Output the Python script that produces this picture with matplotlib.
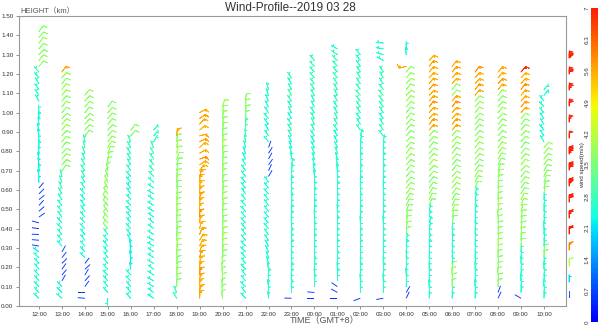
import numpy as np
import matplotlib
matplotlib.use("Agg")
import matplotlib.pyplot as plt
from matplotlib.colors import LinearSegmentedColormap, Normalize
from matplotlib.colorbar import ColorbarBase

nan = np.nan

TIME_LABELS = ["12:00", "13:00", "14:00", "15:00", "16:00", "17:00", "18:00", "19:00",
               "20:00", "21:00", "22:00", "23:00", "00:00", "01:00", "02:00", "03:00",
               "04:00", "05:00", "06:00", "07:00", "08:00", "09:00", "10:00"]

HEIGHTS = [0.04, 0.07, 0.10, 0.13, 0.16, 0.19, 0.22, 0.25, 0.28, 0.31, 0.34, 0.37,
           0.40, 0.43, 0.46, 0.49, 0.52, 0.55, 0.58, 0.61, 0.64, 0.67, 0.70, 0.73,
           0.76, 0.79, 0.82, 0.85, 0.88, 0.91, 0.94, 0.97, 1.00, 1.03, 1.06, 1.09,
           1.12, 1.15, 1.18, 1.21, 1.24, 1.27, 1.30, 1.33, 1.36, 1.39, 1.42]

# wind speed (m/s) per range gate, lowest gate first, one list per hour
SPEED = [
    # 12:00
    [2.5,2.6,2.4,2.7,2.5,2.6,2.4,2.5,2.3, 0.5,0.6,0.5,0.4,0.5, 0.6,0.5,0.6,0.7,0.6,0.5,
     2.3,2.4,2.3,2.2,2.4,2.3,2.5,2.4,2.3,2.4,2.5,2.3,2.4, nan, 2.5,2.6,2.5,2.7,2.6,2.8,
     3.7,3.8,3.6,3.7,3.8,3.7,3.6],
    # 13:00
    [2.5,2.4,2.6, 0.6,0.5,0.6,0.5,0.6,0.7,
     2.4,2.5,2.6,2.5,2.4,2.6,2.7,2.5,2.6,2.8,2.7,2.9,2.8,
     3.6,3.7,3.8,3.7,3.6,3.8,3.7,3.9,3.8,3.7,3.6,3.8,3.7,3.8,3.9,3.7,3.8, 5.6],
    # 14:00
    [0.5,0.6, 0.6,0.5,0.7,0.6,0.5,
     2.4,2.5,2.6,2.5,2.4,2.6,2.7,2.5,2.6,2.4,2.5,2.6,2.7,2.5,2.6,2.8,2.7,2.6,2.8,2.9,2.8,
     3.6,3.7,3.8,3.7,3.6,3.8,3.7,3.8],
    # 15:00
    [2.4,2.5,2.6,2.5,2.4,2.6,2.7,2.5,2.6,2.4,2.5,2.7,
     3.6,3.7,3.8,3.7,3.6,3.8,3.7,3.9,3.8,3.7,3.6,3.8,3.7,3.8,3.9,3.7,3.8,3.6,3.7,3.8,
     3.7,3.6],
    # 16:00
    [2.4,2.5,2.6,2.5,2.4,2.3,2.2,2.3,2.2,2.3,2.4,2.5,2.6,2.5,2.4,2.6,2.7,2.5,2.6,2.4,
     2.5,2.6,2.7,2.5,2.6,2.8,2.7,2.8, 3.6,3.7],
    # 17:00
    [2.4,2.5,2.6,2.5,2.4,2.6,2.7,2.5,2.6,2.4,2.5,2.6,2.7,2.5,2.6,2.4,2.5,2.6,2.7,2.5,
     2.6,2.8,2.7,2.6,2.8,2.9,2.8,2.7,2.6,2.8],
    # 18:00
    [2.6,2.7, 3.6,3.7,3.8,3.7,3.6,3.8,3.7,3.9,3.8,3.7,3.6,3.8,3.7,3.8,3.9,3.7,3.8,3.6,
     3.7,3.8,3.7,3.6,3.8,3.9,3.8,3.7, 5.6],
    # 19:00
    [5.6,5.7,5.5,5.6,5.8,5.6,5.5,5.7,5.6,5.5,5.6,5.7,5.5,5.6,5.8,5.6,5.5,5.7,5.6,5.5,
     5.6,5.7,5.5,5.6,5.8,5.6,5.5,5.7,5.6,5.5,5.6,5.7,5.5],
    # 20:00
    [3.7,3.8,3.6,3.7,3.8,3.9,3.7,3.6,3.8,3.7,3.9,3.8,3.7,3.6,3.8,3.7,3.8,3.9,3.7,3.8,
     3.6,3.7,3.8,3.7,3.6,3.8,3.9,3.8,3.7,3.6,3.8,3.7,3.8,3.9],
    # 21:00
    [2.5,2.6,2.4,2.5,2.7,2.6,2.5,2.4,2.6,2.5,2.7,2.6,2.5,2.4,2.6,2.5,2.7,2.6,2.5,2.4,
     2.6,2.5,2.7,2.6,2.5,2.4,2.6,2.7,2.8,2.9,2.8, 3.6,3.7,3.8,3.7],
    # 22:00
    [2.5,2.6,2.4,2.5,2.7,2.6,2.5, 2.4,2.6,2.5,2.7,2.6,2.5,2.4,2.6,2.5,2.7,2.6,2.5,2.4,
     2.6, 0.6,0.5,0.7,0.6,0.5,0.6, 2.5,2.6,2.4,2.5,2.7,2.6,2.5,2.4,2.6,2.7],
    # 23:00
    [0.5, 2.5,2.6,2.4,2.5,2.7,2.6,2.5,2.4,2.6,2.5,2.7,2.6,2.5,2.4,2.6,2.5,2.7,2.6,2.5,
     2.4,2.6,2.5,2.7,2.6, 2.5,2.4,2.6,2.7,2.8,2.6,2.5,2.7,2.6,2.8,2.9,2.7,2.6,2.8],
    # 00:00
    [0.5,0.6, 2.5,2.6,2.4,2.5,2.7,2.6,2.5,2.4,2.6,2.5, 2.7,2.6,2.5,2.4,2.6,2.5,2.7,2.6,
     2.5, 2.4,2.6,2.5,2.7,2.6,2.5,2.4,2.6,2.7,2.8, 2.6,2.5,2.7,2.6,2.8,2.9,2.7,2.6,2.8,
     2.7,2.6],
    # 01:00
    [0.5,0.6,0.5, 2.5,2.6,2.4,2.5,2.7,2.6,2.5,2.4,2.6,2.5, 2.7,2.6,2.5,2.4,2.6,2.5,2.7,
     2.6,2.5,2.4, 2.6,2.5,2.7,2.6,2.5,2.4,2.6,2.7,2.8,2.6, 2.5,2.7,2.6,2.8,2.9,2.7,2.6,
     2.8,2.7,2.6,2.5],
    # 02:00
    [0.5, 2.5,2.6,2.4,2.5,2.7,2.6,2.5,2.4,2.6, 2.5,2.7,2.6,2.5,2.4,2.6,2.5,2.7,2.6,2.5,
     2.4,2.6,2.5,2.7,2.6,2.5,2.4,2.6,2.7, 2.8,2.6,2.5,2.7,2.6,2.8,2.9,2.7,2.6,2.8,2.7,
     2.6,2.5,2.6],
    # 03:00
    [0.5, 2.5,2.6,2.4,2.5,2.7,2.6,2.5,2.4,2.6, 2.5,2.7,2.6,2.5,2.4,2.6,2.5,2.7,2.6,2.5,
     2.4,2.6,2.5,2.7,2.6,2.5,2.4,2.6, 2.7,2.8,2.6,2.5,2.7,2.6,2.8,2.9,2.7,2.6,2.8,2.7,
     nan, 2.5,2.6,2.4,2.5],
    # 04:00
    [0.5,0.6, 2.5,2.6,2.4,2.5,2.7,2.6,2.5,2.4,2.6, 3.6,3.7,3.8,3.7,3.6,3.8,3.7,3.9,3.8,
     3.7,3.6,3.8,3.7,3.8,3.9,3.7,3.8,3.6,3.7,3.8, 3.7,3.6,3.8,3.9,3.8,3.7,3.8,3.9,3.7,
     5.6, nan, 2.4,2.3],
    # 05:00
    [2.5,2.6,2.4,2.5,2.7,2.6,2.5,2.4,2.6, 2.5,2.7,2.6,2.5,2.4,2.6,2.5,
     3.6,3.7,3.8,3.7,3.6,3.8,3.7,3.9,3.8,3.7,3.6,3.8,3.7,
     5.6,5.7,5.5,5.6,5.8,5.6,5.5,5.7,5.6,5.5,5.6,5.7,5.5],
    # 06:00
    [2.5,2.6, 3.7,3.6,3.8,3.7, 2.6,2.5,2.4,2.6,2.5,2.7,2.6,
     3.6,3.7,3.8,3.7,3.6,3.8,3.7,3.9,3.8,3.7,3.6,3.8,3.7,3.8,3.9,3.7,
     5.6,5.7,5.5,5.6,5.8,5.6, 3.8,3.7, 5.5,5.6,5.7,5.6],
    # 07:00
    [2.5,2.6,2.4,2.5,2.7,2.6,2.5,2.4,2.6,2.5, 2.7,2.6,2.5,2.4,2.6,2.5,2.7,2.6,2.5,
     3.6,3.7,3.8,3.7,3.6,3.8,3.7,3.9,3.8,3.7,3.6,3.8,3.7,3.8,3.9,3.7,
     5.6,5.7,5.5,5.6,5.8],
    # 08:00
    [0.6,0.5, 3.7,3.6,3.8,3.7,3.6,3.8,3.7,3.9,3.8, 3.7,3.6,3.8,3.7,3.8,3.9,3.7,3.8,3.6,
     3.7,3.8,3.7,3.6,3.8,3.9,3.8,3.7,3.6,3.8, 3.7,3.8,3.9,3.7,3.6,3.8,
     5.6,5.7,5.5,5.6],
    # 09:00
    [0.5, 2.5,2.6,2.4,2.5,2.7,2.6,2.5,2.6, 3.7,3.6,3.8,3.7,3.6,3.8,3.7,3.9,3.8,3.7,3.6,
     3.8,3.7,3.8,3.9,3.7,3.8,3.6,3.7,3.8,3.7,3.6,3.8, 5.6,5.7,5.5,5.6,5.8,5.6,5.5, 6.8],
    # 10:00
    [2.5,2.6,2.4,2.5,2.7,2.6,2.5, 3.6,3.7, 2.6,2.5,2.4,2.6,2.5,2.7,2.6,2.5,2.4,
     3.7,3.6,3.8,3.7,3.6,3.8,3.7,3.9,3.8, 2.6,2.5,2.4,2.6,2.5,2.7,2.6,2.5,2.4,2.6],
]

# wind direction (degrees, where the wind blows from), same layout as SPEED
DIRECTION = [
    # 12:00
    [312,318,315,320,316,322,318,312,305, 280,275,272,278,285, 55,48,42,50,45,40,
     355,350,358,352,348,355,0,356,350,345,352,358,355, nan, 330,325,322,328,320,318,
     42,38,45,40,36,42,38],
    # 13:00
    [310,315,318, 30,40,35,45,38,30,
     318,322,320,315,318,325,320,322,328,330,335,340,345,
     38,42,40,45,38,40,42,38,40,44,40,38,42,40,36,40,42, 35],
    # 14:00
    [275,270, 35,42,30,48,38,
     315,320,318,322,320,315,318,320,325,322,320,318,325,330,328,325,330,335,340,345,350,
     38,42,40,45,38,40,42,38],
    # 15:00
    [185,318,322,320,315,318,320,325,322,320,318,325,
     320,318,322,325,320,318,325,330,335,340,350,0,10,20,30,38,40,42,38,40,42,38],
    # 16:00
    [318,322,320,315,318,352,356,350,354,348,330,320,318,322,320,315,318,320,325,322,
     320,318,325,330,328,325,330,335, 40,38],
    # 17:00
    [302,305,300,298,304,306,300,303,305,300,298,302,306,310,305,300,302,306,300,305,
     310,315,318,322,325,330,335,30,40,38],
    # 18:00
    [330,335, 2,5,3,6,4,2,5,7,3,4,6,2,5,3,4,6,8,5,3,6,10,15,20,12,8,5, 5],
    # 19:00
    [3,5,2,6,4,3,8,12,18,25,30,20,12,5,2,358,3,6,2,5,
     4,15,35,55,70,60,45,65,75,50,40,55,60],
    # 20:00
    [350,355,352,358,354,350,356,3,5,2,4,6,3,5,2,4,6,3,5,8,
     4,2,5,3,6,4,2,5,3,6,8,5,10,15],
    # 21:00
    [318,322,315,320,325,318,322,320,315,318,320,325,322,318,320,315,318,322,325,320,
     318,322,325,330,335,340,345,350,355,0,5, 2,5,3,6],
    # 22:00
    [355,0,352,358,5,350,345, 340,335,330,325,322,320,318,320,322,325,320,318,322,
     325, 30,25,35,28,32,20, 320,325,330,322,318,325,330,335,340,345],
    # 23:00
    [272, 2,5,358,3,6,0,4,2,5,3,6,2,358,4,5,2,6,3,0,
     5,2,8,12,355, 345,340,335,330,328,325,330,335,328,325,330,332,328,325],
    # 00:00
    [270,275, 2,5,358,3,6,0,4,2,5,3, 6,2,358,4,5,2,6,3,
     0, 355,350,345,340,335,330,328,325,330,335, 328,325,330,332,328,325,322,320,318,
     315,320],
    # 01:00
    [270,300,305, 2,5,358,3,6,0,4,2,5,3, 6,2,358,4,5,2,6,
     3,0,355, 350,345,340,335,330,328,325,330,335,328, 325,330,332,328,325,322,320,
     318,315,305,300],
    # 02:00
    [250, 2,5,358,3,6,0,4,2,5, 3,6,2,358,4,5,2,6,3,0,
     5,2,8,3,6,2,5,10,15, 325,330,322,328,325,320,318,322,325,330,328,
     325,322,320,318],
    # 03:00
    [260, 2,5,358,3,6,0,4,2,5, 3,6,2,358,4,5,2,6,3,0,
     5,2,8,3,6,2,5,10, 320,325,330,322,328,325,320,318,322,325,330,328,
     nan, 300,285,280,275],
    # 04:00
    [25,30, 2,5,358,3,6,0,4,8,12, 5,8,10,15,20,25,30,35,38,
     42,40,38,42,40,36,40,44,40,38,42, 40,38,42,40,44,38,40,42,38,
     255, nan, 355,0],
    # 05:00
    [2,5,358,3,6,0,4,2,5, 8,10,6,12,15,10,12,
     20,25,30,35,38,40,42,38,40,42,38,40,42,
     40,38,42,40,36,40,44,40,38,42,40,38,42],
    # 06:00
    [2,5, 0,3,358,2, 5,2,6,3,8,5,4,
     10,15,20,25,30,35,38,40,42,38,40,42,38,40,42,38,
     40,38,42,40,36,40, 42,38, 40,42,38,40],
    # 07:00
    [2,5,358,3,6,0,4,2,5,3, 6,2,8,4,5,10,6,12,15,
     20,25,30,35,38,40,42,38,40,42,38,40,42,38,40,42,
     40,38,42,40,36],
    # 08:00
    [25,20, 2,5,358,3,6,0,4,2,5, 3,6,2,358,4,5,2,6,3,
     8,12,18,25,30,35,38,40,42,38, 40,42,38,40,42,38,
     40,42,38,40],
    # 09:00
    [300, 2,5,358,3,6,0,4,2, 5,3,6,8,10,12,15,20,25,30,35,
     38,40,42,38,40,42,38,40,42,38,40,42, 40,38,42,40,36,40,44, 40],
    # 10:00
    [2,5,358,3,6,0,4, 2,5, 3,6,2,358,4,5,2,6,3,
     8,12,18,25,30,35,38,40,42, 330,325,322,328,325,320,318,322,40,42,38],
]

# speeds shown in the barb key at the right edge
KEY_SPEEDS = [1, 2, 4, 6, 8, 10, 12, 14, 16, 18, 20, 22, 24, 26, 28, 30]
CBAR_TICKS = [0, 0.7, 1.4, 2.1, 2.8, 3.5, 4.2, 4.9, 5.6, 6.3, 7]

FONT = ["Liberation Sans", "Noto Sans CJK SC", "DejaVu Sans"]
plt.rcParams["font.family"] = FONT

# rainbow scale from pure blue to pure red (middle part of jet)
cmap = LinearSegmentedColormap.from_list(
    "wind", plt.get_cmap("jet")(np.linspace(0.12, 0.88, 256)))
norm = Normalize(0, 7)

W, H = 600, 327
DPI = 100
fig = plt.figure(figsize=(W / DPI, H / DPI), dpi=DPI)
ax = fig.add_axes([19 / W, 1 - 306 / H, (566 - 19) / W, (306 - 16) / H])

# barbs scale their outline by length/2 points, so the staff is length**2/2 points long
BARB_LEN = 3.2
SHAFT_IN = BARB_LEN ** 2 / 2 / 72.0
INC = dict(half=2, full=4, flag=20)
SIZES = dict(spacing=0.2, height=0.55, width=0.3, emptybarb=0.0)
LW = 0.6

xs, ys, us, vs, ss = [], [], [], [], []
for i, (spd, drc) in enumerate(zip(SPEED, DIRECTION)):
    for h, s, d in zip(HEIGHTS, spd, drc):
        if np.isnan(s):
            continue
        r = np.deg2rad(d)
        xs.append(i); ys.append(h)
        us.append(-s * np.sin(r)); vs.append(-s * np.cos(r)); ss.append(s)
xs, ys, us, vs, ss = map(np.array, (xs, ys, us, vs, ss))

strong = ss >= 1.0
ax.barbs(xs[strong], ys[strong], us[strong], vs[strong], ss[strong],
         cmap=cmap, norm=norm, length=BARB_LEN, linewidth=LW,
         barb_increments=INC, sizes=SIZES)
# light winds: bare staff pointing into the wind
weak = ~strong
ax.quiver(xs[weak], ys[weak], -us[weak] / ss[weak], -vs[weak] / ss[weak],
          color=cmap(norm(ss[weak])), angles="uv", scale_units="inches",
          scale=1.0 / SHAFT_IN, pivot="tail", units="dots", width=0.9,
          headwidth=0, headlength=0, headaxislength=0)

ax.set_xlim(-0.87, 22.96)
ax.set_ylim(0, 1.5)
ax.set_xticks(range(len(TIME_LABELS)))
ax.set_xticklabels(TIME_LABELS)
yt = [k / 10 for k in range(16)]
ax.set_yticks(yt)
ax.set_yticklabels([f"{t:.2f}" for t in yt])
ax.tick_params(labelsize=4.5, length=2, width=0.5, colors="#666666",
               labelcolor="#333333", pad=2)
for sp in ax.spines.values():
    sp.set_color("#999999")
    sp.set_linewidth(0.8)

fig.text(290 / W, 1 - 8 / H, "Wind-Profile--2019 03 28", ha="center", va="center",
         fontsize=8.5, color="#333333")
fig.text(20 / W, 1 - 12 / H, "HEIGHT（km）", ha="left", va="center",
         fontsize=5.5, color="#555555")
fig.text(325 / W, 1 - 321 / H, "TIME（GMT+8）", ha="center", va="center",
         fontsize=6.5, color="#555555")

# barb key
kax = fig.add_axes([566 / W, 1 - 306 / H, 16 / W, (306 - 16) / H])
kax.set_xlim(0, 1)
kax.set_ylim(0, 290)
kax.axis("off")
ky = np.array([8 + 16 * k for k in range(len(KEY_SPEEDS))], float)
ks = np.array(KEY_SPEEDS, float)
big = ks >= 2
kax.barbs(np.full(big.sum(), 0.2), ky[big], np.zeros(big.sum()), -ks[big],
          ks[big], cmap=cmap, norm=norm, length=BARB_LEN, linewidth=LW,
          barb_increments=INC, sizes=SIZES, clip_on=False)
kax.quiver(np.full((~big).sum(), 0.2), ky[~big], np.zeros((~big).sum()),
           np.ones((~big).sum()), color=[cmap(norm(v)) for v in ks[~big]],
           angles="uv", scale_units="inches", scale=1.0 / SHAFT_IN, pivot="tail",
           units="dots", width=0.9, headwidth=0, headlength=0, headaxislength=0)

# colour bar
cax = fig.add_axes([591 / W, 1 - 322 / H, 7 / W, (322 - 8) / H])
cb = ColorbarBase(cax, cmap=cmap, norm=norm, orientation="vertical", ticks=CBAR_TICKS)
cb.outline.set_visible(False)
cax.yaxis.set_ticks_position("left")
cax.yaxis.set_label_position("left")
cax.tick_params(length=0, labelsize=4.5, labelcolor="#333333", pad=1)
cax.set_yticklabels([f"{t:g}" for t in CBAR_TICKS], rotation=90, va="center")
cax.set_ylabel("wind speed(m/s)", fontsize=4.5, color="#333333", labelpad=0)

fig.savefig("out.png", dpi=DPI)
